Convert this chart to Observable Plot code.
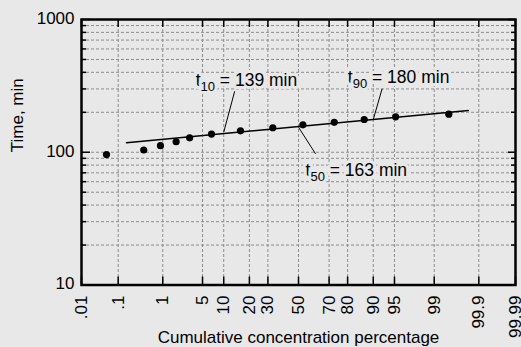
<!DOCTYPE html>
<html>
<head>
<meta charset="utf-8">
<script src="https://cdn.jsdelivr.net/npm/d3@7"></script>
<script src="https://cdn.jsdelivr.net/npm/@observablehq/plot@0.6"></script>
<style>
  html, body { margin: 0; padding: 0; background: #e8e8e8; }
  svg { display: block; }
</style>
</head>
<body>
<div id="chart"></div>
<script>
// ---- data ----
const tickPercents = [0.01, 0.1, 1, 5, 10, 20, 30, 50, 70, 80, 90, 95, 99, 99.9, 99.99];
const tickLabels = [".01", ".1", "1", "5", "10", "20", "30", "50", "70", "80", "90", "95", "99", "99.9", "99.99"];
const yMajor = [10, 100, 1000];
const yMajorLabels = ["10", "100", "1000"];
const yMinor = [20, 30, 40, 50, 60, 70, 80, 90, 200, 300, 400, 500, 600, 700, 800, 900];

const pointPct  = [0.05, 0.4, 0.9, 1.8, 3.1, 6.8, 16, 33, 53, 73, 87, 95.2, 99.5];
const pointTime = [96, 104, 112, 120, 128.5, 137, 145, 153, 161, 168, 176.5, 185, 193.5];

const fitPct  = [0.16, 99.82];
const fitTime = [118, 206];

const annoSub   = ["10", "50", "90"];
const annoValue = [139, 163, 180];
const annoPct   = [3.9, 54.8, 80.1];
const annoTime  = [347, 73.6, 366];
const leaderFromPct  = [13.7, 50, 92.4];
const leaderFromTime = [288, 154.4, 300.6];
const leaderToPct    = [10, 61.5, 90];
const leaderToTime   = [141.6, 97.3, 176.5];

// ---- helpers ----
// inverse standard normal CDF (Acklam)
function probit(p) {
  const a = [-3.969683028665376e+01, 2.209460984245205e+02, -2.759285104469687e+02, 1.383577518672690e+02, -3.066479806614716e+01, 2.506628277459239e+00];
  const b = [-5.447609879822406e+01, 1.615858368580409e+02, -1.556989798598866e+02, 6.680131188771972e+01, -1.328068155288572e+01];
  const c = [-7.784894002430293e-03, -3.223964580411365e-01, -2.400758277161838e+00, -2.549732539343734e+00, 4.374664141464968e+00, 2.938163982698783e+00];
  const d = [7.784695709041462e-03, 3.224671290700398e-01, 2.445134137142996e+00, 3.754408661907416e+00];
  const pl = 0.02425, ph = 1 - pl;
  let q, r;
  if (p < pl) {
    q = Math.sqrt(-2 * Math.log(p));
    return (((((c[0]*q+c[1])*q+c[2])*q+c[3])*q+c[4])*q+c[5]) / ((((d[0]*q+d[1])*q+d[2])*q+d[3])*q+1);
  } else if (p <= ph) {
    q = p - 0.5; r = q*q;
    return (((((a[0]*r+a[1])*r+a[2])*r+a[3])*r+a[4])*r+a[5])*q / (((((b[0]*r+b[1])*r+b[2])*r+b[3])*r+b[4])*r+1);
  } else {
    q = Math.sqrt(-2 * Math.log(1 - p));
    return -(((((c[0]*q+c[1])*q+c[2])*q+c[3])*q+c[4])*q+c[5]) / ((((d[0]*q+d[1])*q+d[2])*q+d[3])*q+1);
  }
}
const px = pct => probit(pct / 100);

const W = 521, H = 347;
const mt = 19, mr = 6, mb = 62.5, ml = 81;
const fw = W - ml - mr, fh = H - mt - mb;
const font = "'Liberation Sans', Arial, Helvetica, sans-serif";
const bg = "#e8e8e8";

const xTicks = tickPercents.map((p, i) => ({p, label: tickLabels[i]}));
const xGrid = tickPercents.slice(1, -1);
const yGrid = [...yMinor, 100];
const yMaj = yMajor.map((v, i) => ({v, label: yMajorLabels[i]}));
const points = pointPct.map((p, i) => ({p, t: pointTime[i]}));
const fit = fitPct.map((p, i) => ({p, t: fitTime[i]}));
const annos = annoSub.map((s, i) => ({
  text: `t${s} = ${annoValue[i]} min`, p: annoPct[i], t: annoTime[i],
  p1: leaderFromPct[i], t1: leaderFromTime[i], p2: leaderToPct[i], t2: leaderToTime[i]
}));

const svg = Plot.plot({
  width: W, height: H,
  marginTop: mt, marginRight: mr, marginBottom: mb, marginLeft: ml,
  style: {background: bg, fontFamily: font, overflow: "visible"},
  x: {type: "linear", domain: [px(0.01), px(99.99)], axis: null},
  y: {type: "log", domain: [10, 1000], axis: null},
  marks: [
    // grid
    Plot.ruleX(xGrid, {x: px, stroke: "#8c8c8c", strokeWidth: 1, strokeDasharray: "3,2"}),
    Plot.ruleY(yGrid, {y: d => d, stroke: "#8c8c8c", strokeWidth: 1, strokeDasharray: "3,2"}),
    // inward ticks: bottom & top
    Plot.tickX(tickPercents, {x: px, insetTop: fh - 8, stroke: "black", strokeWidth: 1.5}),
    Plot.tickX(tickPercents, {x: px, insetBottom: fh - 8, stroke: "black", strokeWidth: 1.5}),
    // inward ticks: left & right
    Plot.tickY(yMajor, {y: d => d, insetRight: fw - 9, stroke: "black", strokeWidth: 1.5}),
    Plot.tickY(yMinor, {y: d => d, insetRight: fw - 5, stroke: "black", strokeWidth: 1.5}),
    Plot.tickY(yMajor, {y: d => d, insetLeft: fw - 7, stroke: "black", strokeWidth: 1.5}),
    Plot.tickY(yMinor, {y: d => d, insetLeft: fw - 4, stroke: "black", strokeWidth: 1.5}),
    // fitted line
    Plot.line(fit, {x: d => px(d.p), y: "t", stroke: "black", strokeWidth: 1.5}),
    // leader lines
    Plot.link(annos, {x1: d => px(d.p1), y1: "t1", x2: d => px(d.p2), y2: "t2", stroke: "black", strokeWidth: 1}),
    // data points
    Plot.dot(points, {x: d => px(d.p), y: "t", r: 3.6, fill: "black", stroke: "none"}),
    // annotation text
    Plot.text(annos, {x: d => px(d.p), y: "t", text: "text", textAnchor: "start", lineAnchor: "middle",
      fontSize: 17.5, fill: "black", stroke: bg, strokeWidth: 6, className: "anno"}),
    // x tick labels
    Plot.text(xTicks, {x: d => px(d.p), text: "label", frameAnchor: "bottom", rotate: -90, textAnchor: "end",
      lineAnchor: "middle", dy: 10.5, fontSize: 17, fill: "black"}),
    // y tick labels
    Plot.text(yMaj, {y: "v", text: "label", frameAnchor: "left", textAnchor: "end", lineAnchor: "middle",
      dx: -7, dy: -1, fontSize: 17, fill: "black"}),
    // axis titles
    Plot.text(["Cumulative concentration percentage"], {frameAnchor: "bottom", dy: 53, lineAnchor: "middle",
      fontSize: 17, fill: "black"}),
    Plot.text(["Time, min"], {frameAnchor: "left", dx: -64, rotate: -90, lineAnchor: "middle",
      fontSize: 17, fill: "black"}),
    // frame
    Plot.frame({stroke: "black", strokeWidth: 2.5})
  ]
});

// subscripts in annotation labels
svg.querySelectorAll("text").forEach(t => {
  const m = /^t(\d+)( = .+)$/.exec(t.textContent);
  if (!m) return;
  const ns = "http://www.w3.org/2000/svg";
  t.textContent = "";
  const a = document.createElementNS(ns, "tspan"); a.textContent = "t";
  const b = document.createElementNS(ns, "tspan"); b.textContent = m[1];
  b.setAttribute("font-size", "13"); b.setAttribute("dy", "5");
  const c = document.createElementNS(ns, "tspan"); c.textContent = m[2];
  c.setAttribute("dy", "-5");
  t.append(a, b, c);
});

document.getElementById("chart").appendChild(svg);
</script>
</body>
</html>
